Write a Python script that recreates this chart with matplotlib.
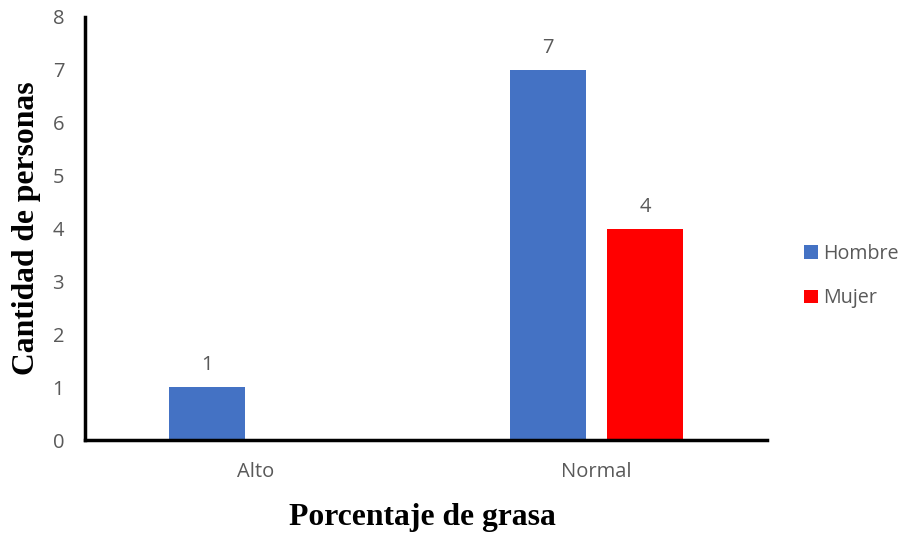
import matplotlib
matplotlib.use("Agg")
import matplotlib.pyplot as plt
import numpy as np

categories = ["Alto", "Normal"]
hombre = [1, 7]
mujer = [0, 4]
series_names = ["Hombre", "Mujer"]
y_ticks = [0, 1, 2, 3, 4, 5, 6, 7, 8]

blue = "#4472C4"
red = "#FF0000"
gray = "#595959"

fig = plt.figure(figsize=(9.08, 5.33), dpi=100)
ax = fig.add_axes([85 / 908, 1 - 440 / 533, (767 - 85) / 908, (440 - 17) / 533])

x = np.arange(len(categories))
width = 0.223
offset = 0.142
bars_h = ax.bar(x - offset, hombre, width, color=blue, label=series_names[0])
bars_m = ax.bar(x + offset, mujer, width, color=red, label=series_names[1])

tick_font = dict(family=["Open Sans", "DejaVu Sans"], size=14.5, color=gray)
for bars, vals in ((bars_h, hombre), (bars_m, mujer)):
    for b, v in zip(bars, vals):
        if v > 0:
            ax.text(b.get_x() + b.get_width() / 2, v + 0.22, str(v),
                    ha="center", va="bottom", **tick_font)

ax.set_xlim(-0.5, 1.5)
ax.set_ylim(0, 8)
ax.set_yticks(y_ticks)
ax.set_yticklabels([str(t) for t in y_ticks], **tick_font)
ax.set_xticks(x)
ax.set_xticklabels(categories, **tick_font)
ax.tick_params(axis="both", length=0)
ax.tick_params(axis="y", pad=15)
ax.tick_params(axis="x", pad=16)

for side in ("top", "right"):
    ax.spines[side].set_visible(False)
for side in ("left", "bottom"):
    ax.spines[side].set_linewidth(2.5)
    ax.spines[side].set_color("black")

title_font = dict(family="Liberation Serif", weight="bold", size=22.8, color="black")
fig.text(27 / 908, 1 - 228 / 533, "Cantidad de personas", rotation=90,
         ha="center", va="center", **title_font)
fig.text(422 / 908, 1 - 517 / 533, "Porcentaje de grasa",
         ha="center", va="center", **title_font)

leg = fig.legend(handles=[bars_h, bars_m], labels=series_names,
                 loc="center left", bbox_to_anchor=(790 / 908, 1 - 276 / 533),
                 frameon=False, handlelength=0.7, handleheight=0.7,
                 handletextpad=0.3, labelspacing=1.25, borderpad=0.2,
                 prop=dict(family="Open Sans", size=14.2))
for t in leg.get_texts():
    t.set_color(gray)

fig.savefig("out.png", dpi=100)
